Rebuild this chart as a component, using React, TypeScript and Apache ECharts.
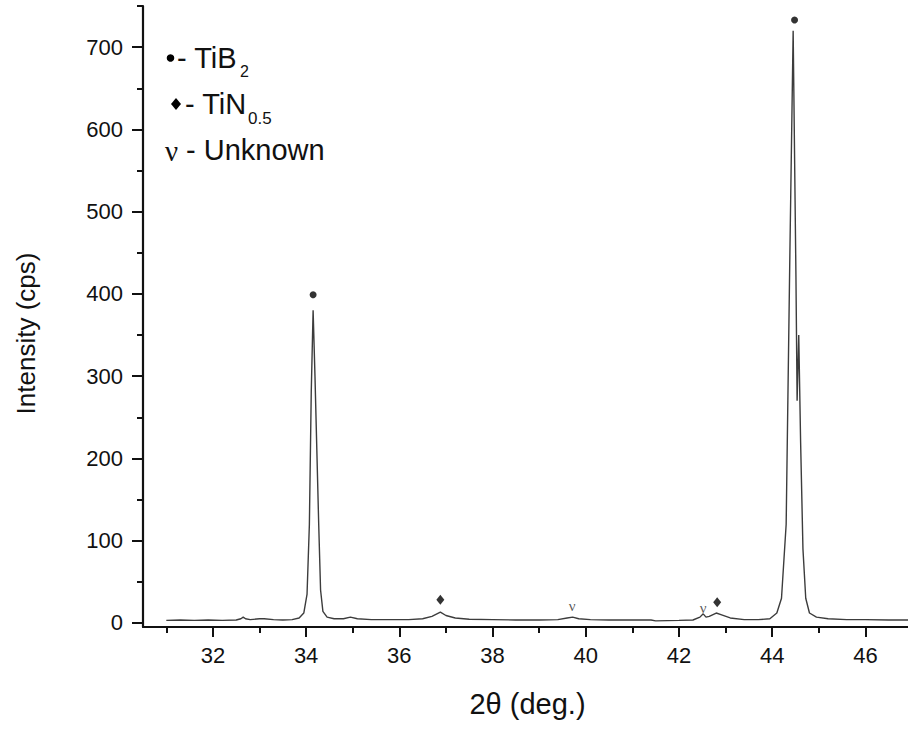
import React, { useEffect, useRef } from "react";
import * as echarts from "echarts";

// 2θ (deg.) positions of the measured profile
const twoTheta = [
  31.0, 31.3, 31.6, 31.9, 32.2, 32.5, 32.6, 32.65, 32.7, 32.8, 33.0, 33.1, 33.3, 33.5, 33.7,
  33.85, 33.95, 34.02, 34.07, 34.11, 34.15, 34.19, 34.23, 34.27, 34.31, 34.36, 34.45, 34.6,
  34.8, 34.95, 35.1, 35.4, 35.8, 36.2, 36.5, 36.7, 36.88, 37.0, 37.2, 37.5, 38.0, 38.5, 39.0,
  39.4, 39.6, 39.72, 39.85, 40.1, 40.5, 41.0, 41.4, 41.5, 42.0, 42.3, 42.45, 42.52, 42.58,
  42.65, 42.8, 42.9, 43.1, 43.4, 43.7, 43.95, 44.1, 44.2, 44.3, 44.38, 44.45, 44.51, 44.535,
  44.57, 44.61, 44.66, 44.72, 44.8, 44.95, 45.2, 45.6, 46.0, 46.5, 47.0,
];
// Intensity (cps) at each position
const intensity = [
  3, 3.5, 3, 3.5, 3, 3.5, 5, 7, 5, 4, 5, 5, 4, 3.5, 4,
  6, 12, 35, 120, 280, 380, 300, 210, 120, 40, 14, 7, 5,
  5, 7, 5, 4, 4, 4, 5, 8, 13, 9, 6, 4.5, 4, 3.5, 3.5,
  4, 6, 7, 5, 4, 3.5, 3.5, 3.5, 2.5, 3, 3.5, 7, 11, 7,
  8, 12, 10, 6, 4, 4, 5, 12, 30, 120, 450, 720, 420, 270,
  350, 220, 90, 30, 12, 7, 5, 4, 4, 3.5, 3.5,
];

// Phase markers placed above peaks [2θ, cps]
const tib2Marks = [
  [34.15, 399],
  [44.48, 733],
];
const tin05Marks = [
  [36.88, 28],
  [42.82, 25],
];
const unknownMarks = [
  [39.71, 21],
  [42.52, 18],
];

// Tick values
const xMajorTicks = [32, 34, 36, 38, 40, 42, 44, 46];
const xMinorTicks = [31, 33, 35, 37, 39, 41, 43, 45, 47];
const yMajorTicks = [0, 100, 200, 300, 400, 500, 600, 700];
const yMinorTicks = [50, 150, 250, 350, 450, 550, 650, 750];

const FONT = "Liberation Sans, Arial, sans-serif";
const SERIF = "Liberation Serif, Times New Roman, serif";
const INK = "#111";

export default function App() {
  const ref = useRef<HTMLDivElement>(null);

  useEffect(() => {
    if (!ref.current) return;
    const chart = echarts.init(ref.current, undefined, { renderer: "svg" });
    const profile = twoTheta.map((x, i) => [x, intensity[i]]);

    const xBase = { type: "value", min: 30.5, max: 47, gridIndex: 0 };
    const yBase = { type: "value", min: -5, max: 750, gridIndex: 0 };

    chart.setOption({
      animation: false,
      backgroundColor: "#fff",
      grid: { left: 143, right: 0, top: 6, bottom: 102, containLabel: false },
      xAxis: [
        {
          ...xBase,
          position: "bottom",
          name: "2θ (deg.)",
          nameLocation: "middle",
          nameGap: 62,
          nameTextStyle: {
            fontFamily: FONT,
            fontSize: 29,
            color: INK,
          },
          splitLine: { show: false },
          axisLine: { show: true, onZero: false, lineStyle: { color: INK, width: 2.2 } },
          axisTick: {
            show: true,
            inside: false,
            length: 10,
            customValues: xMajorTicks,
            lineStyle: { color: INK, width: 2 },
          },
          axisLabel: {
            show: true,
            customValues: xMajorTicks,
            margin: 17,
            fontFamily: FONT,
            fontSize: 22,
            color: INK,
          },
        },
        {
          ...xBase,
          position: "bottom",
          splitLine: { show: false },
          axisLine: { show: false, onZero: false },
          axisTick: {
            show: true,
            inside: false,
            length: 6,
            customValues: xMinorTicks,
            lineStyle: { color: INK, width: 2 },
          },
          axisLabel: { show: false, customValues: xMinorTicks },
        },
      ],
      yAxis: [
        {
          ...yBase,
          position: "left",
          name: "Intensity (cps)",
          nameLocation: "middle",
          nameGap: 104,
          nameTextStyle: { fontFamily: FONT, fontSize: 26, color: INK, padding: [0, 34, 0, 0] },
          splitLine: { show: false },
          axisLine: { show: true, onZero: false, lineStyle: { color: INK, width: 2.2 } },
          axisTick: {
            show: true,
            inside: false,
            length: 11,
            customValues: yMajorTicks,
            lineStyle: { color: INK, width: 2 },
          },
          axisLabel: {
            show: true,
            customValues: yMajorTicks,
            margin: 20,
            fontFamily: FONT,
            fontSize: 22,
            color: INK,
          },
        },
        {
          ...yBase,
          position: "left",
          splitLine: { show: false },
          axisLine: { show: false, onZero: false },
          axisTick: {
            show: true,
            inside: false,
            length: 6,
            customValues: yMinorTicks,
            lineStyle: { color: INK, width: 2 },
          },
          axisLabel: { show: false, customValues: yMinorTicks },
        },
      ],
      series: [
        {
          name: "XRD",
          type: "line",
          xAxisIndex: 0,
          yAxisIndex: 0,
          data: profile,
          showSymbol: false,
          symbol: "none",
          clip: true,
          lineStyle: { color: "#3c3c3c", width: 1.4 },
        },
        {
          name: "TiB2",
          type: "scatter",
          xAxisIndex: 0,
          yAxisIndex: 0,
          data: tib2Marks,
          symbol: "circle",
          symbolSize: 7,
          itemStyle: { color: "#000" },
        },
        {
          name: "TiN0.5",
          type: "scatter",
          xAxisIndex: 0,
          yAxisIndex: 0,
          data: tin05Marks,
          symbol: "diamond",
          symbolSize: [8, 10],
          itemStyle: { color: "#000" },
        },
        {
          name: "Unknown",
          type: "scatter",
          xAxisIndex: 0,
          yAxisIndex: 0,
          data: unknownMarks,
          symbolSize: 1,
          itemStyle: { color: "rgba(0,0,0,0)" },
          label: {
            show: true,
            position: "inside",
            formatter: "ν",
            fontFamily: SERIF,
            fontSize: 15,
            color: "#333",
          },
        },
      ],
      graphic: [
        { type: "circle", shape: { cx: 170.5, cy: 58, r: 3.8 }, style: { fill: "#000" } },
        {
          type: "text",
          x: 177,
          y: 58,
          style: { text: "- TiB", font: `29px ${FONT}`, fill: INK, verticalAlign: "middle" },
        },
        {
          type: "text",
          x: 240,
          y: 71,
          style: { text: "2", font: `16px ${FONT}`, fill: INK, verticalAlign: "middle" },
        },
        {
          type: "polygon",
          shape: { points: [[176, 98], [181, 104], [176, 110], [171, 104]] },
          style: { fill: "#000" },
        },
        {
          type: "text",
          x: 185,
          y: 104,
          style: { text: "- TiN", font: `29px ${FONT}`, fill: INK, verticalAlign: "middle" },
        },
        {
          type: "text",
          x: 248,
          y: 118,
          style: { text: "0.5", font: `17px ${FONT}`, fill: INK, verticalAlign: "middle" },
        },
        {
          type: "text",
          x: 165,
          y: 151,
          style: { text: "ν", font: `29px ${SERIF}`, fill: INK, verticalAlign: "middle" },
        },
        {
          type: "text",
          x: 186,
          y: 150,
          style: { text: "- Unknown", font: `29px ${FONT}`, fill: INK, verticalAlign: "middle" },
        },
      ],
    });

    return () => chart.dispose();
  }, []);

  return (
    <div
      style={{
        position: "fixed",
        left: 0,
        top: 0,
        width: 908,
        height: 729,
        overflow: "hidden",
        background: "#fff",
      }}
    >
      <div ref={ref} style={{ width: 912, height: 729 }} />
    </div>
  );
}
